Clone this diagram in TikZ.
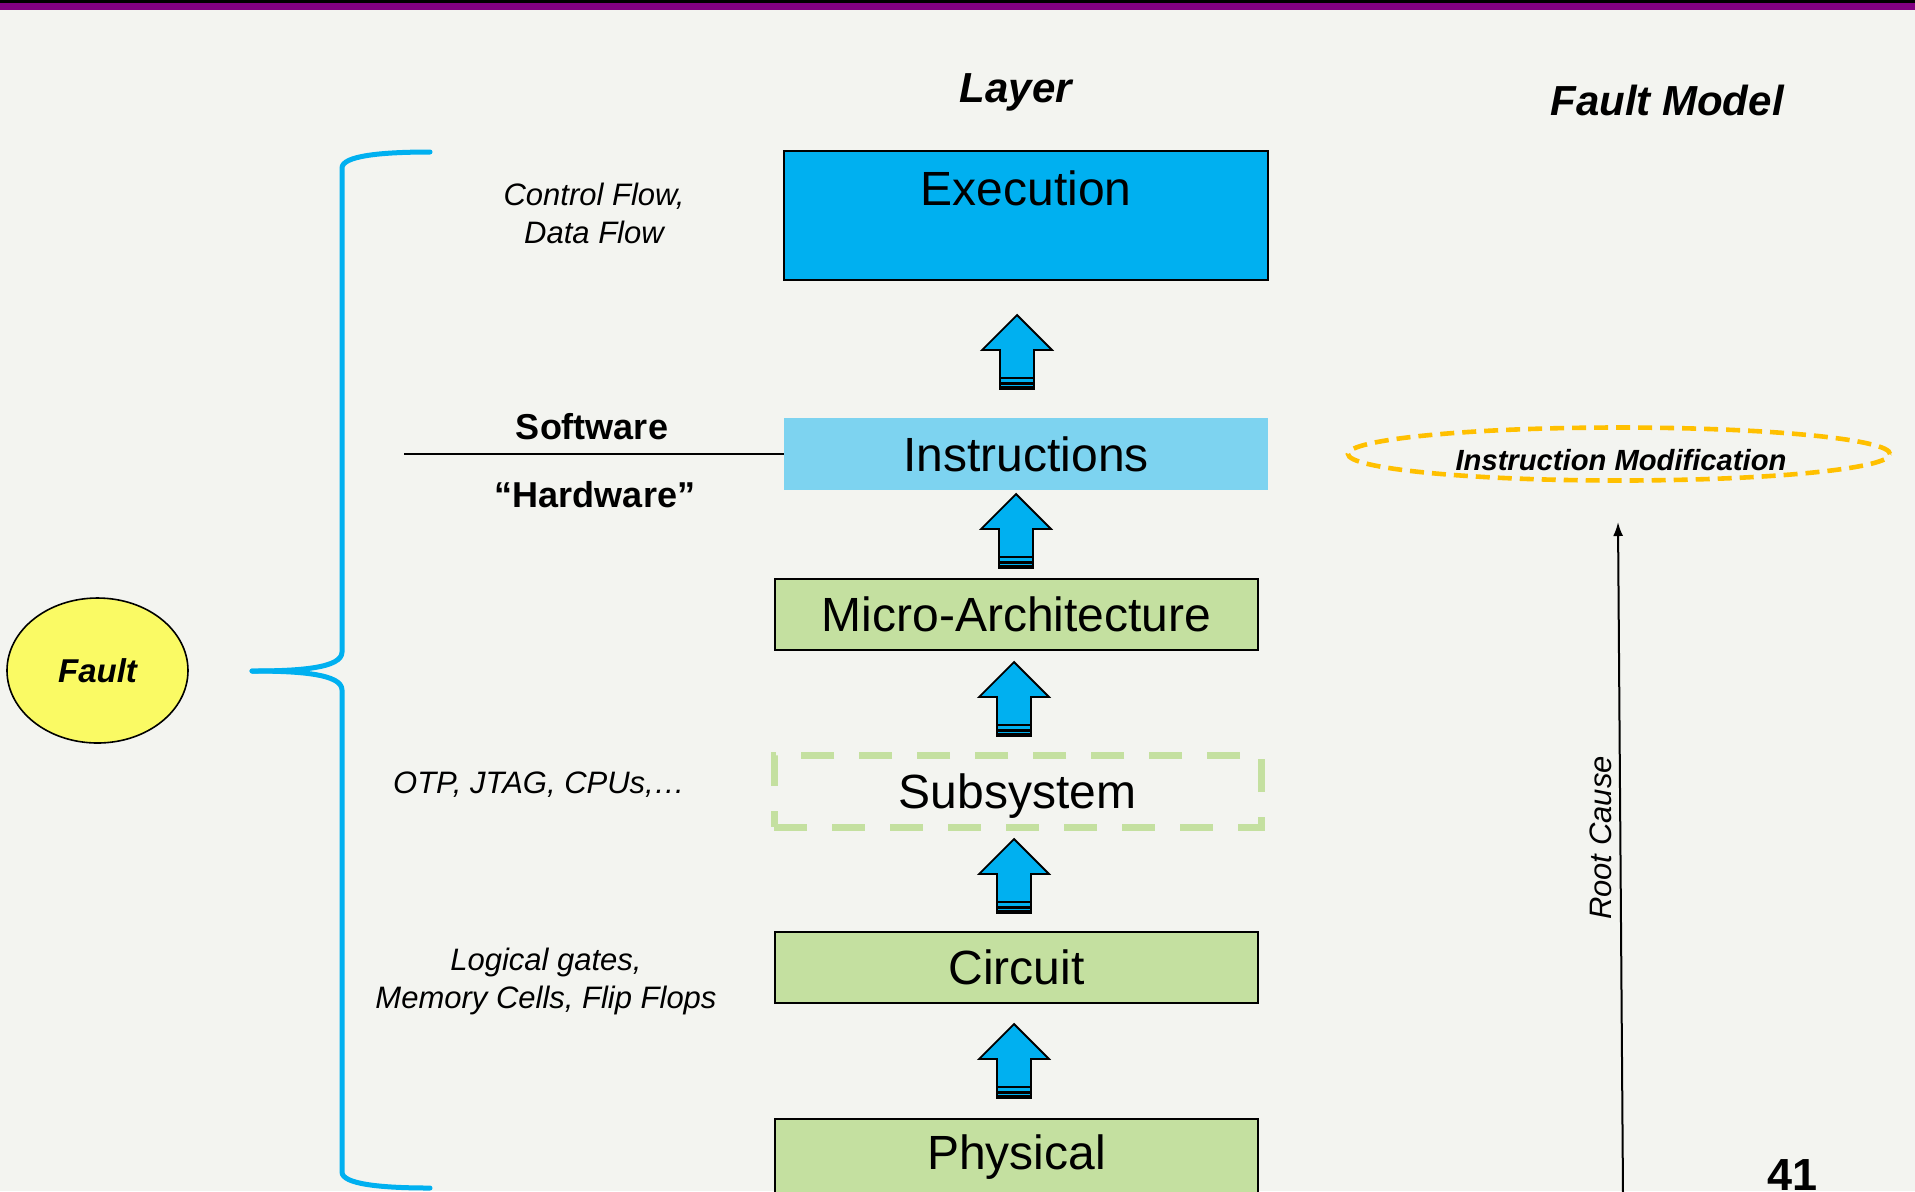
\documentclass[tikz,border=0pt]{standalone}
\usepackage{fontspec}
\setmainfont{Liberation Sans}
\usetikzlibrary{arrows.meta,shapes.geometric}
\definecolor{bgcol}{HTML}{F3F4F0}
\definecolor{bandpurple}{HTML}{820082}
\definecolor{execblue}{HTML}{00B0F0}
\definecolor{instrblue}{HTML}{7DD3F0}
\definecolor{layergreen}{HTML}{C4E0A0}
\definecolor{faultyellow}{HTML}{FAFA64}
\definecolor{modorange}{HTML}{FFC000}
\tikzset{
  layerbox/.style={draw=black, line width=0.8pt, fill=layergreen,
    minimum width=241.5pt, minimum height=35.5pt, inner sep=0pt,
    font=\fontsize{24}{28}\selectfont},
  sidenote/.style={font=\fontsize{15.5}{19}\selectfont\itshape, align=center},
  heading/.style={font=\fontsize{21}{25}\selectfont\bfseries\itshape},
  brace/.style={draw=execblue, line width=2.5pt, line cap=round},
  pics/uparrow/.style={code={
    \draw[fill=execblue, line width=0.9pt, line join=miter]
      (0,0) -- (35,35) -- (17,35) -- (17,74) -- (-17,74) -- (-17,35) -- (-35,35) -- cycle;
    \draw[line width=0.9pt] (-17,63) -- (17,63);
    \draw[line width=1.1pt] (-17,68.5) -- (17,68.5);
    \draw[line width=0.9pt] (-17,72) -- (17,72);
  }}
}
\begin{document}
\begin{tikzpicture}[x=0.5pt,y=-0.5pt]
\useasboundingbox (0,0) rectangle (1915,1191);
\fill[bgcol] (0,0) rectangle (1915,1191);
\fill[black] (0,0) rectangle (1915,3);
\fill[bandpurple] (0,3) rectangle (1915,10);

% headings
\node[heading] (layerhead) at (1016,92) {Layer};
\node[heading] (faulthead) at (1667,100) {Fault Model};

% layer stack
\node[draw=black, line width=0.8pt, fill=execblue, minimum width=242pt,
  minimum height=64.5pt, inner sep=0pt] (exec) at (1026,215.5) {};
\node[font=\fontsize{24}{28}\selectfont] (exectext) at (1026,188) {Execution};
\node[fill=instrblue, minimum width=242pt, minimum height=36pt, inner sep=0pt,
  font=\fontsize{24}{28}\selectfont] (instr) at (1026,454) {Instructions};
\node[layerbox] (micro) at (1016.5,614.5) {Micro-Architecture};
\node[layerbox, fill=none, draw=layergreen, line width=3.5pt,
  dash pattern=on 16.5pt off 12.5pt, minimum width=243.5pt, minimum height=36pt,
  text depth=0pt]
  (subsys) at (1017.5,791) {Subsystem};
\node[layerbox] (circuit) at (1016.5,967.5) {Circuit};
\node[layerbox, minimum height=38pt] (physical) at (1016.5,1157) {Physical};

% upward block arrows between layers
\pic at (1017,315) {uparrow};
\pic at (1016,494) {uparrow};
\pic at (1014,662) {uparrow};
\pic at (1014,839) {uparrow};
\pic at (1014,1024) {uparrow};

% side notes
\node[sidenote] (cfnote) at (594,213) {Control Flow,\\Data Flow};
\node[font=\fontsize{18}{22}\selectfont\bfseries] (sw) at (592,427) {Software};
\node[font=\fontsize{18}{22}\selectfont\bfseries] (hw) at (595,495) {“Hardware”};
\coordinate (swline) at (404,454);
\draw[line width=0.8pt] (swline) -- (instr.west);
\node[sidenote] (otp) at (539,785) {OTP, JTAG, CPUs,…};
\node[sidenote] (gates) at (546,981) {Logical gates,\\Memory Cells, Flip Flops};

% fault and its brace
\node[ellipse, draw=black, line width=0.8pt, fill=faultyellow, minimum width=90.5pt,
  minimum height=72.5pt, inner sep=0pt, font=\fontsize{16.5}{20}\selectfont\bfseries\itshape]
  (fault) at (97.5,670.5) {Fault};
\coordinate (bracetop) at (430,152);
\coordinate (bracetip) at (252,671);
\coordinate (bracebot) at (430,1188);
\draw[brace] (bracetop) .. controls (380,152) and (342,156) .. (342,168)
  -- (342,652) .. controls (342,668) and (300,671) .. (bracetip);
\draw[brace] (bracetip) .. controls (300,671) and (342,674) .. (342,690)
  -- (342,1172) .. controls (342,1184) and (380,1188) .. (bracebot);

% fault model side
\node[ellipse, draw=modorange, line width=2.3pt, dash pattern=on 7pt off 4pt,
  minimum width=271pt, minimum height=26.5pt, inner sep=0pt] (instrmod) at (1619,454) {};
\node[font=\fontsize{14.6}{17}\selectfont\bfseries\itshape]
  (instrmodtext) at (1621,460) {Instruction Modification};
\coordinate (rcbottom) at (1623,1195);
\coordinate (rctop) at (1618,522);
\draw[line width=1pt, -{Latex[length=7pt,width=5pt]}] (rcbottom) -- (rctop);
\node[rotate=90, font=\fontsize{15.5}{19}\selectfont\itshape] (rclabel) at (1601,838) {Root Cause};

% page number
\node[font=\fontsize{22.5}{26}\selectfont\bfseries, anchor=base] (pagenum) at (1792,1190) {41};
\end{tikzpicture}
\end{document}
